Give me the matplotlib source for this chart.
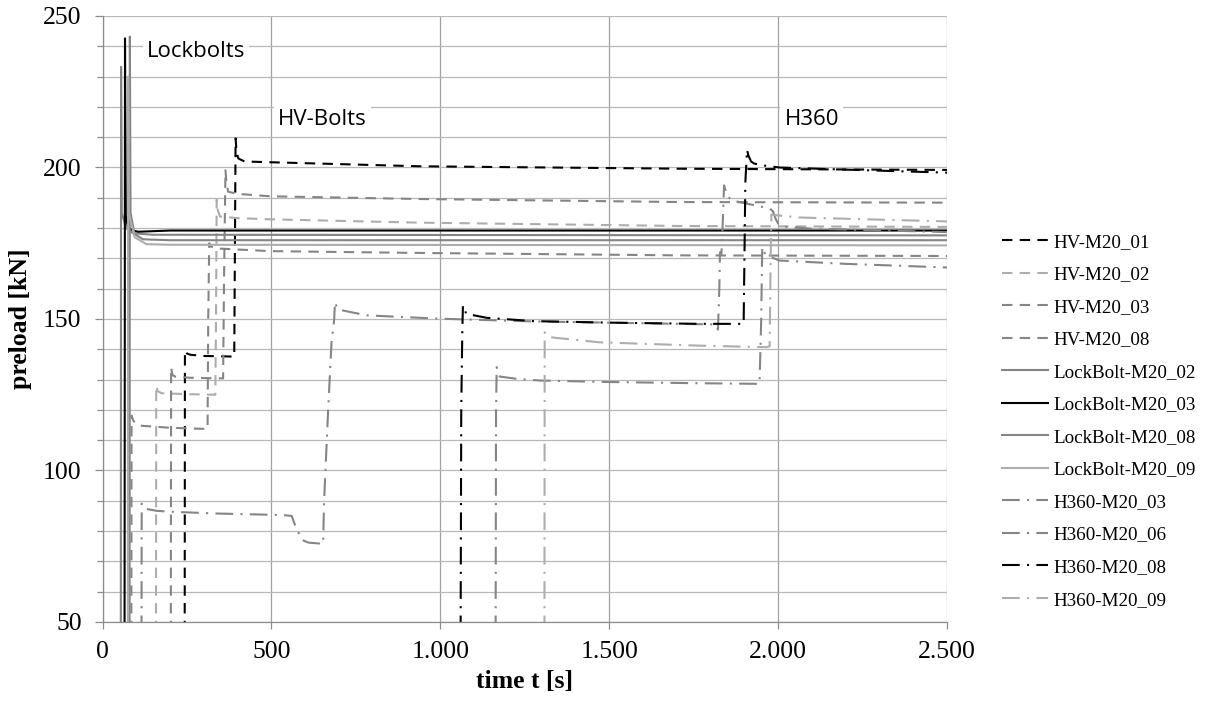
import matplotlib.pyplot as plt
from matplotlib.ticker import MultipleLocator, FuncFormatter

# time [s] and preload [kN]
t_hv01 = [0, 243, 244, 250, 260, 300, 390, 394, 397, 402, 420, 476, 939, 1708, 2500]
f_hv01 = [0, 0, 139.6, 138.6, 138.2, 137.8, 137.6, 209.6, 205, 203, 202, 201.8, 200.4, 199.6, 199.2]

t_hv02 = [0, 158, 159, 163, 175, 250, 334, 336, 338, 341, 348, 400, 496, 939, 1708, 2500]
f_hv02 = [0, 0, 128, 126.2, 125.5, 125.2, 125, 150, 189.4, 186, 183.8, 183.3, 182.9, 181.8, 180.7, 180.4]

t_hv03 = [0, 202, 203, 207, 215, 260, 357, 360, 364, 367, 372, 400, 496, 939, 1708, 2500]
f_hv03 = [0, 0, 134.1, 131.5, 131, 130.6, 130.4, 165, 199.1, 195, 192, 191.3, 190.5, 189.6, 188.6, 188.4]

t_hv08 = [0, 85, 86, 91, 100, 111, 200, 311, 313, 316, 320, 335, 496, 939, 1708, 2500]
f_hv08 = [0, 0, 118.1, 116.5, 115.3, 114.8, 114.1, 113.7, 150, 175, 174, 173.3, 172.4, 171.8, 171, 170.8]

t_lb02 = [0, 54, 55, 57, 70, 90, 150, 2500]
f_lb02 = [0, 0, 233.2, 185, 180, 178.3, 177.8, 177.6]

t_lb03 = [0, 65, 66.6, 69, 75, 90, 106, 200, 2500]
f_lb03 = [0, 0, 242.6, 184, 180.5, 179.2, 178.8, 179.2, 179.2]

t_lb08 = [0, 80, 81, 83, 95, 120, 200, 2500]
f_lb08 = [0, 0, 243.2, 185, 178, 176.3, 176, 176]

t_lb09 = [0, 75, 76, 78, 95, 130, 200, 2500]
f_lb09 = [0, 0, 230, 185, 177, 174.7, 174.5, 174.3]

t_h03 = [0, 115, 116, 122, 131, 160, 200, 338, 535, 560, 570, 580, 592, 610, 653,
         656, 668, 678, 682, 686, 688, 695, 712, 782, 998, 1275, 1600, 1815, 1822,
         1826, 1828, 1832, 1834, 1840, 1848, 1861, 1906, 1975, 1985, 1993, 2000,
         2024, 2100, 2500]
f_h03 = [0, 0, 89.1, 88, 87.3, 86.7, 86.4, 85.8, 85.3, 85, 82, 79.5, 77, 76.2, 75.8,
         90, 120, 142.3, 146, 150, 155.6, 153.5, 152.8, 151.2, 150.1, 149.2, 148.6,
         148.2, 146.5, 160, 172, 171.5, 175, 194.1, 191, 189.2, 188.1, 186.5, 185.5,
         183, 181.5, 180.4, 179.8, 178.7]

t_h06 = [0, 1163, 1165, 1167, 1172, 1176, 1230, 1294, 1500, 1768, 1945, 1950, 1953,
         1958, 1970, 2004, 2200, 2500]
f_h06 = [0, 0, 120, 134.1, 132, 131, 130.2, 129.7, 129.2, 128.8, 128.6, 150, 173.7,
         172, 170.8, 169.3, 168.2, 167]

t_h08 = [0, 1059, 1062, 1065, 1067, 1072, 1077, 1137, 1275, 1500, 1768, 1898, 1903,
         1908, 1912, 1920, 1929, 1955, 2004, 2200, 2500]
f_h08 = [0, 0, 120, 145, 154.5, 153, 151.7, 150.4, 149.3, 148.8, 148.4, 148.4, 195,
         205.9, 204, 202, 201.3, 200.7, 200, 199.3, 198.3]

t_h09 = [0, 1308, 1309, 1316, 1332, 1472, 1768, 1965, 1975, 1978, 1980, 1990, 2064, 2500]
f_h09 = [0, 0, 145.6, 144.6, 143.9, 142.3, 141.2, 140.7, 141, 170, 184.5, 184.3, 183.5, 182.2]

black = "#000000"
mid = "#858585"
light = "#adadad"
dash = (0, (5, 3.5))
dashdot = (0, (8.5, 3.5, 1, 3.5))

series = [
    ("HV-M20_01", t_hv01, f_hv01, black, dash),
    ("HV-M20_02", t_hv02, f_hv02, light, dash),
    ("HV-M20_03", t_hv03, f_hv03, mid, dash),
    ("HV-M20_08", t_hv08, f_hv08, mid, dash),
    ("LockBolt-M20_02", t_lb02, f_lb02, mid, "-"),
    ("LockBolt-M20_03", t_lb03, f_lb03, black, "-"),
    ("LockBolt-M20_08", t_lb08, f_lb08, mid, "-"),
    ("LockBolt-M20_09", t_lb09, f_lb09, light, "-"),
    ("H360-M20_03", t_h03, f_h03, mid, dashdot),
    ("H360-M20_06", t_h06, f_h06, mid, dashdot),
    ("H360-M20_08", t_h08, f_h08, black, dashdot),
    ("H360-M20_09", t_h09, f_h09, light, dashdot),
]

serif = "Liberation Serif"

fig = plt.figure(figsize=(12.06, 7.01), dpi=100)
ax = fig.add_axes([102.5 / 1206, 1 - 622 / 701, 844.5 / 1206, 606 / 701])

for name, t, f, color, ls in series:
    ax.plot(t, f, color=color, linestyle=ls, linewidth=1.5, label=name)

ax.set_xlim(0, 2500)
ax.set_ylim(50, 250)
ax.xaxis.set_major_locator(MultipleLocator(500))
ax.yaxis.set_major_locator(MultipleLocator(50))
ax.yaxis.set_minor_locator(MultipleLocator(10))
ax.xaxis.set_major_formatter(FuncFormatter(lambda v, p: f"{int(v):,}".replace(",", ".")))

ax.set_axisbelow(True)
ax.grid(axis="y", which="both", color="#b8b8b8", linewidth=0.9)
ax.grid(axis="x", which="major", color="#a0a0a0", linewidth=0.9)

for side in ["top", "right"]:
    ax.spines[side].set_visible(False)
for side in ["left", "bottom"]:
    ax.spines[side].set_color("#8c8c8c")
    ax.spines[side].set_linewidth(0.9)

ax.tick_params(axis="both", which="both", direction="out", color="#8c8c8c", width=0.9)
ax.tick_params(axis="y", which="major", length=6, pad=9)
ax.tick_params(axis="y", which="minor", length=4)
ax.tick_params(axis="x", which="major", length=5, pad=9)
for lbl in ax.get_xticklabels() + ax.get_yticklabels():
    lbl.set_fontfamily(serif)
    lbl.set_fontsize(18.5)

ax.set_xlabel("time t [s]", fontfamily=serif, fontsize=18.5, fontweight="bold", labelpad=5)
ax.set_ylabel("preload [kN]", fontfamily=serif, fontsize=18.5, fontweight="bold", labelpad=8)

# group labels with white boxes over the grid
box = dict(facecolor="white", edgecolor="none", pad=3)
ax.text(131, 238.2, "Lockbolts", fontfamily="Open Sans", fontsize=16, va="center", bbox=box)
ax.text(520, 215.8, "HV-Bolts", fontfamily="Open Sans", fontsize=16, va="center", bbox=box)
ax.text(2019, 215.8, "H360", fontfamily="Open Sans", fontsize=16, va="center", bbox=box)

fig.legend(loc="center left", bbox_to_anchor=(1002 / 1206, 1 - 421 / 701),
           frameon=False, prop={"family": serif, "size": 13.7},
           handlelength=2.4, handletextpad=0.3, labelspacing=0.8,
           borderpad=0, borderaxespad=0)

fig.savefig("out.png", dpi=100)
